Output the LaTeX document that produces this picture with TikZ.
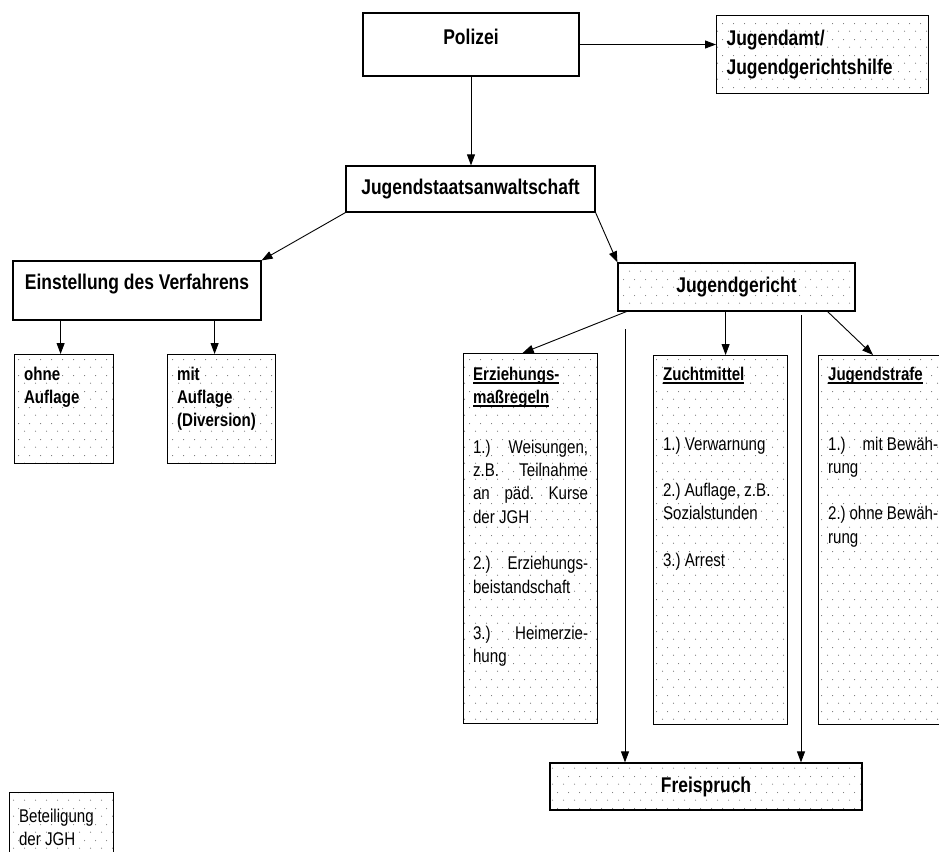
\documentclass[tikz,border=0pt]{standalone}
\usepackage{fontspec}
\setmainfont{Liberation Sans}[FakeStretch=0.82]
\usetikzlibrary{arrows.meta,patterns}

\pgfdeclarepatternformonly{sparsedots}{\pgfpointorigin}{\pgfpoint{11pt}{16pt}}{\pgfpoint{11pt}{16pt}}{%
  \pgfpathcircle{\pgfpoint{2.75pt}{4pt}}{0.6pt}%
  \pgfpathcircle{\pgfpoint{8.25pt}{12pt}}{0.6pt}%
  \pgfusepath{fill}}

\newcommand{\bodysize}{\fontsize{18.4}{23.3}\selectfont\frenchspacing}
\newsavebox{\hdbox}
\newcommand{\hdunder}[1]{\leavevmode\sbox{\hdbox}{#1}\rlap{\rule[-4pt]{\wd\hdbox}{2pt}}\usebox{\hdbox}}

\tikzset{
  arr/.style={-{Triangle[length=11pt,width=8pt]}, line width=0.9pt},
  head/.style={font=\bfseries\fontsize{21.3}{29}\selectfont},
  plainbox/.style={draw, line width=1.2pt, inner sep=0pt},
  dotbox/.style={plainbox, pattern=sparsedots, pattern color=black!55},
  listbox/.style={dotbox, font=\bodysize, anchor=north west, align=justify, inner xsep=9.5pt, inner ysep=0pt},
}

\begin{document}
\begin{tikzpicture}[x=1pt, y=-1pt]
    \useasboundingbox (0,0) rectangle (939,851);

    \node[plainbox, head, minimum width=216pt, minimum height=63pt, text depth=15pt] (polizei) at (471,44.5) {Polizei};
    \node[dotbox, head, anchor=north west, align=justify, inner xsep=10pt, inner ysep=0pt, text width=192pt, text height=29.6pt, text depth=48.4pt] (jugendamt) at (716,15) {Jugendamt/\\Jugendgerichtshilfe};
    \node[plainbox, head, minimum width=249pt, minimum height=46pt] (jsa) at (470.5,189) {Jugendstaatsanwaltschaft};

    \node[plainbox, head, minimum width=248pt, minimum height=59pt, text depth=17pt] (einst) at (137,290.5) {Einstellung des Verfahrens};
    \node[dotbox, head, minimum width=237pt, minimum height=48pt] (jg) at (736.5,287) {Jugendgericht};

    \node[listbox, font=\bfseries\bodysize, text width=80pt, text height=25.5pt, text depth=83.5pt] (ohne) at (14,354) {ohne\\Auflage};
    \node[listbox, font=\bfseries\bodysize, text width=89pt, text height=25.5pt, text depth=83.5pt] (mit) at (167,354) {mit\\Auflage\\(Diversion)};

    \node[listbox, text width=115pt, text height=26.5pt, text depth=343.5pt] (erz) at (463,353) {\hdunder{\bfseries Erziehungs-}\\\hdunder{\bfseries maßregeln}\\[26.5pt]
      1.)\hfill Weisungen,\\ z.B.\hfill Teilnahme\\ an\hfill päd.\hfill Kurse\\ der JGH\\[23.3pt]
      2.)\hfill Erziehungs-\\ beistandschaft\\[23.3pt]
      3.)\hfill Heimerzie-\\ hung};
    \node[listbox, text width=115pt, text height=24.5pt, text depth=344.5pt] (zucht) at (653,355) {\hdunder{\bfseries Zuchtmittel}\\[46.6pt]
      1.) Verwarnung\\[23.3pt]
      2.) Auflage, z.B.\\ Sozialstunden\\[23.3pt]
      3.) Arrest};
    \node[listbox, text width=110pt, text height=24.5pt, text depth=344.5pt] (strafe) at (818,355) {\hdunder{\bfseries Jugendstrafe}\\[46.6pt]
      1.)\hfill mit Bewäh-\\ rung\\[23.3pt]
      2.) ohne Bewäh-\\ rung};

    \node[dotbox, head, minimum width=312pt, minimum height=47pt] (frei) at (706,786.5) {Freispruch};
    \node[listbox, text width=85pt, text height=29.5pt, text depth=50pt, font=\fontsize{18.4}{23}\selectfont] (beteil) at (9,792) {Beteiligung\\der JGH};

    \draw[arr] (polizei.east) -- (polizei.east -| jugendamt.west);
    \draw[arr] (polizei.south) -- (polizei.south |- jsa.north);
    \draw[arr] (jsa.south west) -- (einst.north east);
    \draw[arr] (jsa.south east) -- (jg.north west);

    \draw[arr] ([xshift=-3.5pt]ohne.north |- einst.south) -- ([xshift=-3.5pt]ohne.north);
    \draw[arr] ([xshift=-7pt]mit.north |- einst.south) -- ([xshift=-7pt]mit.north);

    \draw[arr] ([xshift=9pt]jg.south west) -- ([xshift=-8pt]erz.north);
    \draw[arr] ([xshift=5pt]zucht.north |- jg.south) -- ([xshift=5pt]zucht.north);
    \draw[arr] ([xshift=-28pt]jg.south east) -- ([xshift=55pt]strafe.north west);

    \coordinate (fl) at (625,329);
    \coordinate (fr) at (801,315);
    \draw[arr] (fl) -- (fl |- frei.north);
    \draw[arr] (fr) -- (fr |- frei.north);

\end{tikzpicture}
\end{document}
